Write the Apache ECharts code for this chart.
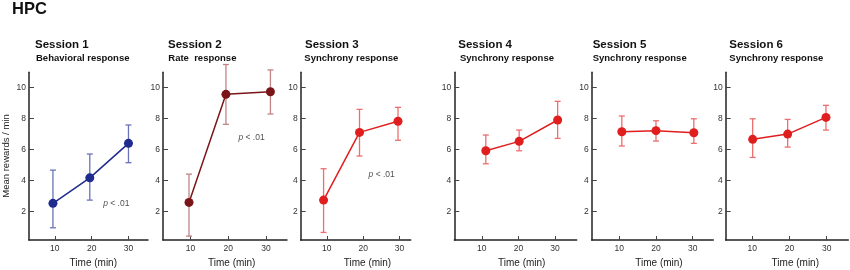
<!DOCTYPE html>
<html><head><meta charset="utf-8">
<script src="https://cdn.jsdelivr.net/npm/echarts@6/dist/echarts.min.js"></script>
<style>html,body{margin:0;padding:0;background:#fff}#c{width:850px;height:270px}</style>
</head><body><div id="c"></div>
<script>
// ---- data ----
const sessionTitles = ['Session 1','Session 2','Session 3','Session 4','Session 5','Session 6'];
const subTitles = ['Behavioral response','Rate  response','Synchrony response','Synchrony response','Synchrony response','Synchrony response'];
const timeTicks = [10, 20, 30];
const rewardTicks = [2, 4, 6, 8, 10];
const xPos = [[9.5,19.5,30],[9.6,19.4,31.2],[9.1,19,29.6],[11.1,20.2,30.7],[10.7,20,30.3],[10.1,19.5,29.8]];
const means = [[2.52,4.17,6.4],[2.58,9.57,9.74],[2.73,7.11,7.83],[5.92,6.53,7.91],[7.15,7.22,7.09],[6.66,7.0,8.08]];
const upper = [[4.67,5.71,7.59],[4.41,11.5,11.15],[4.76,8.6,8.73],[6.94,7.26,9.12],[8.17,7.86,7.99],[7.99,7.95,8.86]];
const lower = [[0.94,2.73,5.15],[0.4,7.63,8.3],[0.64,5.58,6.6],[5.08,5.92,6.72],[6.23,6.55,6.4],[5.49,6.16,7.26]];
const pText = ['p < .01','p < .01','p < .01',null,null,null];
const pPos = [[26.7,2.47],[26.2,6.76],[25.1,4.39],null,null,null];

// ---- layout / style ----
const FONT = 'Arial, "Liberation Sans", sans-serif';
const gridLeft = [29,163,300.7,454.3,591.7,725.7];
const gridRight = [148,287,410.7,576.7,713.3,848.3];
const xMin = [3,2.7,2.8,2.5,2.5,2.85];
const xMax = [35.3,35.6,33.1,35.9,35.6,35.8];
const titleX = [35,168,305,458.3,592.7,729.3];
const subX = [36,168.3,304.3,460,592.7,729.3];
const timeX = [93.3,231.7,367.5,521.7,659,795.3];
const markColor = ['#1f2b8e','#7a1619','#e01e1e','#e01e1e','#e01e1e','#e01e1e'];
const barColor = ['#6a73b8','#c28486','#ec6e6e','#ec6e6e','#ec6e6e','#ec6e6e'];
const gridTop = 72.25, gridBottomY = 240, W = 850, H = 270;

const grid = [], xAxis = [], yAxis = [], series = [], graphic = [];
for (let i = 0; i < 6; i++) {
  grid.push({left: gridLeft[i], top: gridTop, width: gridRight[i]-gridLeft[i], height: gridBottomY-gridTop, containLabel: false});
  xAxis.push({type:'value', gridIndex:i, min:xMin[i], max:xMax[i],
    axisLine:{show:true, onZero:false, lineStyle:{color:'#222', width:1.5}},
    axisTick:{show:true, inside:true, length:4, customValues: timeTicks, lineStyle:{color:'#444'}},
    axisLabel:{show:true, customValues: timeTicks, fontSize:8.5, color:'#333', margin:4, fontFamily:FONT},
    splitLine:{show:false}});
  yAxis.push({type:'value', gridIndex:i, min:0.15, max:11,
    axisLine:{show:true, onZero:false, lineStyle:{color:'#222', width:1.5}},
    axisTick:{show:true, inside:true, length:5, customValues: rewardTicks, lineStyle:{color:'#444'}},
    axisLabel:{show:true, customValues: rewardTicks, fontSize:8.5, color:'#333', margin:3, fontFamily:FONT},
    splitLine:{show:false}});
  const eb = xPos[i].map((x,k)=>[x, lower[i][k], upper[i][k]]);
  series.push({type:'custom', xAxisIndex:i, yAxisIndex:i, clip:false, z:1, silent:true,
    data: eb,
    renderItem: (params, api) => {
      const x = api.value(0);
      const lo = api.coord([x, api.value(1)]);
      const hi = api.coord([x, api.value(2)]);
      const cw = 3;
      const st = {stroke: barColor[i], lineWidth: 1.3};
      return {type:'group', children:[
        {type:'line', shape:{x1:lo[0], y1:lo[1], x2:hi[0], y2:hi[1]}, style:st},
        {type:'line', shape:{x1:lo[0]-cw, y1:lo[1], x2:lo[0]+cw, y2:lo[1]}, style:st},
        {type:'line', shape:{x1:hi[0]-cw, y1:hi[1], x2:hi[0]+cw, y2:hi[1]}, style:st}
      ]};
    }});
  series.push({type:'line', xAxisIndex:i, yAxisIndex:i, z:3, silent:true,
    data: xPos[i].map((x,k)=>[x, means[i][k]]),
    symbol:'circle', symbolSize:9, showSymbol:true,
    lineStyle:{color:markColor[i], width:1.5},
    itemStyle:{color:markColor[i]}});
  if (pText[i]) {
    series.push({type:'scatter', xAxisIndex:i, yAxisIndex:i, z:4, silent:true, symbolSize:0,
      data:[pPos[i]],
      label:{show:true, position:'inside', formatter: () => '{i|p}' + pText[i].slice(1),
        fontSize:8.5, color:'#222', fontFamily:FONT,
        rich:{i:{fontStyle:'italic', fontSize:8.5, color:'#222', fontFamily:FONT}}}});
  }
  graphic.push({type:'text', left:titleX[i], top:39, style:{text:sessionTitles[i], font:'bold 11.5px '+FONT, fill:'#111'}});
  graphic.push({type:'text', left:subX[i], top:53.5, style:{text:subTitles[i], font:'bold 9.5px '+FONT, fill:'#111'}});
  graphic.push({type:'text', x:timeX[i], y:263, style:{text:'Time (min)', font:'10px '+FONT, fill:'#222', align:'center', verticalAlign:'middle'}});
}
graphic.push({type:'text', left:12, top:1, style:{text:'HPC', font:'bold 16.5px '+FONT, fill:'#111'}});
graphic.push({type:'text', x:6, y:156, rotation:Math.PI/2, style:{text:'Mean rewards / min', font:'9.5px '+FONT, fill:'#222', align:'center', verticalAlign:'middle'}});

const chart = echarts.init(document.getElementById('c'), null, {renderer:'canvas'});
chart.setOption({animation:false, backgroundColor:'#fff', grid, xAxis, yAxis, series, graphic});
</script></body></html>
